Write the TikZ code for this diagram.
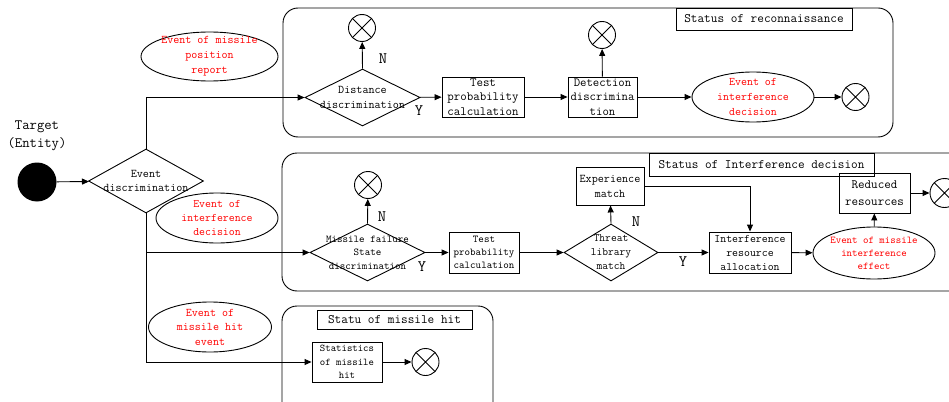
\documentclass[tikz,border=0pt]{standalone}
\usepackage{tikz}
\usetikzlibrary{shapes.geometric, arrows.meta, positioning}

\newcommand{\fsz}[2]{\fontsize{#1}{#2}\ttfamily\selectfont}

\tikzset{
  flow/.style = {line width = 0.9pt, -{Triangle[length = 7pt, width = 6pt]}},
  box/.style = {rectangle, draw, line width = 0.9pt, inner sep = 0pt, 
    align = center, minimum width = #1},
  decide/.style = {diamond, draw, line width = 0.9pt, inner sep = 0pt},
  event/.style = {ellipse, draw, line width = 0.9pt, inner sep = 0pt},
  inner/.style = {align = center, inner sep = 0pt},
  redtext/.style = {align = center, inner sep = 0pt, text = red},
  yn/.style = {inner sep = 0pt, font = \fsz{16}{16}},
  term/.style = {circle, draw, line width = 0.9pt, minimum size = 27pt, 
    inner sep = 0pt, path picture = {
      \draw (path picture bounding box.north west) 
        -- (path picture bounding box.south east)
        (path picture bounding box.north east) 
        -- (path picture bounding box.south west);}},
  status/.style = {rectangle, draw, line width = 0.9pt, fill = white, 
    inner sep = 0pt, font = \fsz{12.9}{14}}
}

\begin{document}
\begin{tikzpicture}[x = 1pt, y = -1pt]
      \clip (0,0) rectangle (949,401);

      \draw [line width = 0.9pt, rounded corners = 15pt] 
        (283,8) rectangle (893,137);
      \draw [line width = 0.9pt, rounded corners = 15pt] 
        (282,153) rectangle (965,291);
      \draw [line width = 0.9pt, rounded corners = 15pt] 
        (282,306) rectangle (493,425);

      \node [status, minimum width = 176pt, minimum height = 22pt] (recon) 
        at (764,19) {Status of reconnaissance};
      \node [status, minimum width = 225pt, minimum height = 23pt] (interf) 
        at (761.5,164.5) {Status of Interference decision};
      \node [status, minimum width = 155pt, minimum height = 19pt] (hitst) 
        at (394.5,320) {Statu of missile hit};

      \node [circle, fill, minimum size = 39pt, inner sep = 0pt] (target) 
        at (37,182) {};
      \node [inner, font = \fsz{14.3}{18}] (targetlbl) at (37,136) 
        {Target\\(Entity)};

      \node [decide, minimum width = 115pt, minimum height = 64pt, 
        label = {[inner, font = \fsz{11.8}{14}]center:{Event\\discrimination}}] 
        (evdisc) at (146,181) {};

      \node [event, minimum width = 137pt, minimum height = 49pt, 
        label = {[redtext, font = \fsz{11.7}{15}]center:{Event of missile\\
        position\\report}}] (posrep) at (209.5,56.5) {};
      \node [event, minimum width = 122pt, minimum height = 50pt, 
        label = {[redtext, font = \fsz{11.5}{14.2}]center:{Event of\\
        interference\\decision}}] (decleft) at (217,218) {};
      \node [event, minimum width = 123pt, minimum height = 50pt, 
        label = {[redtext, font = \fsz{11.7}{14.5}]center:{Event of\\
        missile hit\\event}}] (hitev) at (210,327) {};

      \node [decide, minimum width = 115pt, minimum height = 57pt, 
        label = {[inner, font = \fsz{11.8}{14.7}]center:{Distance\\
        discrimination}}] (dist) at (362.5,97.5) {};
      \node [term] (endA) at (362,28) {};
      \node [box = 82pt, minimum height = 40pt, font = \fsz{12.6}{14.5}] 
        (testA) at (483,97) {Test\\probability\\calculation};
      \node [box = 69pt, minimum height = 40pt, font = \fsz{12.4}{14.5}] 
        (detect) at (602.5,97) {Detection\\discrimina\\tion};
      \node [term] (endB) at (602,35) {};
      \node [event, minimum width = 122pt, minimum height = 50pt, 
        label = {[redtext, font = \fsz{11.6}{14.8}]center:{Event of\\
        interference\\decision}}] (decright) at (753,97) {};
      \node [term] (endC) at (855.5,97) {};
      \node [yn] (nA) at (383,59) {N};
      \node [yn] (yA) at (419,111) {Y};

      \node [decide, minimum width = 115pt, minimum height = 57pt, 
        label = {[inner, font = \fsz{10.5}{13.3}]center:{Missile failure\\
        State\\discrimination}}] (mfail) at (367.5,252.5) {};
      \node [term] (endD) at (368,185) {};
      \node [box = 70pt, minimum height = 41pt, font = \fsz{10.5}{13.3}] 
        (testB) at (484,252.5) {Test\\probability\\calculation};
      \node [decide, minimum width = 94pt, minimum height = 57pt, 
        label = {[inner, font = \fsz{11.2}{14}]center:{Threat\\library\\
        match}}] (threat) at (611,252.5) {};
      \node [box = 68pt, minimum height = 38pt, font = \fsz{11.8}{15}] 
        (exper) at (610,186) {Experience\\match};
      \node [box = 82pt, minimum height = 41pt, font = \fsz{11.5}{14}] 
        (alloc) at (750,252.5) {Interference\\resource\\allocation};
      \node [event, minimum width = 122pt, minimum height = 52pt, 
        label = {[redtext, font = \fsz{10.4}{13}]center:{Event of missile\\
        interference\\effect}}] (effect) at (874,253) {};
      \node [box = 71pt, minimum height = 40pt, font = \fsz{12.7}{17.3}] 
        (reduce) at (874.5,193) {Reduced\\resources};
      \node [term, minimum size = 29pt] (endE) at (944.5,193) {};
      \node [yn] (nB) at (382,217) {N};
      \node [yn] (yB) at (422,267) {Y};
      \node [yn] (nC) at (636,222) {N};
      \node [yn] (yC) at (683,262) {Y};

      \node [box = 70pt, minimum height = 40pt, font = \fsz{10.3}{13.3}] 
        (stats) at (347,362) {Statistics\\of missile\\hit};
      \node [term] (endF) at (425.5,362) {};

      \draw [flow] (target) -- (evdisc);
      \draw [flow] (evdisc.north) |- (dist.west);
      \draw [flow] (evdisc.south) |- (mfail.west);
      \draw [flow] (evdisc.south) |- (stats.west);

      \draw [flow] (dist.north) -- (endA);
      \draw [flow] (dist) -- (testA);
      \draw [flow] (testA) -- (detect);
      \draw [flow] (detect) -- (endB);
      \draw [flow] (detect) -- (decright);
      \draw [flow] (decright) -- (endC);

      \draw [flow] (mfail.north) -- (endD);
      \draw [flow] (mfail) -- (testB);
      \draw [flow] (testB) -- (threat);
      \draw [flow] (threat.north) -- (exper);
      \draw [flow] (threat) -- (alloc);
      \draw [flow] (exper.east) -| (alloc.north);
      \draw [flow] (alloc) -- (effect);
      \draw [flow] (effect) -- (reduce);
      \draw [flow] (reduce) -- (endE);

      \draw [flow] (stats) -- (endF);
\end{tikzpicture}
\end{document}
